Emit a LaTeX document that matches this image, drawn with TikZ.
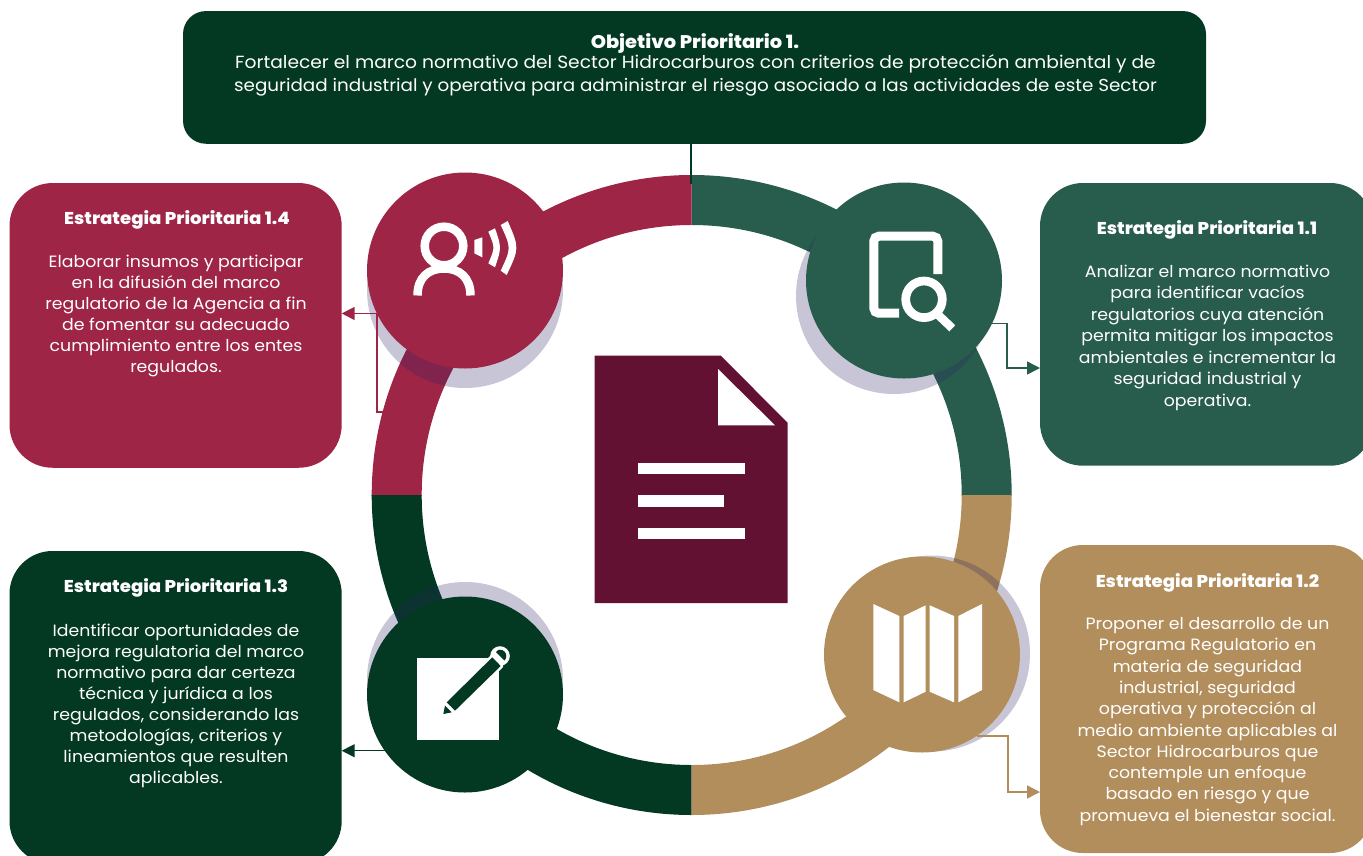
\documentclass[tikz,border=0pt]{standalone}
\usepackage{fontspec}
\usetikzlibrary{arrows.meta,calc}
\newfontfamily\mont[FakeStretch=1.06]{Poppins}
\newfontfamily\montx[FakeStretch=1.06]{Poppins ExtraBold}
\definecolor{cRed}{HTML}{9F2547}
\definecolor{cTeal}{HTML}{285C4D}
\definecolor{cTan}{HTML}{B38E5D}
\definecolor{cDark}{HTML}{033822}
\definecolor{cDoc}{HTML}{621132}
\definecolor{cShade}{HTML}{2B2461}
\tikzset{
  panel/.style={rectangle,rounded corners=43pt,inner sep=0pt,outer sep=0pt,fill=#1},
  disc/.style={circle,minimum size=196pt,inner sep=0pt,outer sep=0pt,fill=#1},
  shade/.style={circle,minimum size=196pt,inner sep=0pt,outer sep=0pt,fill=cShade,fill opacity=.26},
  headtxt/.style={text=white,align=center,inner sep=0pt,font={\montx\fontsize{17.1}{20}\selectfont}},
  bodytxt/.style={text=white,align=center,inner sep=0pt,font={\mont\fontsize{16.35}{#1}\selectfont}},
  linkline/.style={draw=#1,line width=1.5pt},
  linkarrow/.style={draw=#1,line width=1.5pt,-{Triangle[length=13pt,width=13pt]}},
  ringarc/.style={draw=#1,line width=50pt},
  iconline/.style={draw=white,line width=8.5pt}
}
\begin{document}
\begin{tikzpicture}[x=1pt,y=-1pt]
\useasboundingbox (0,0) rectangle (1363,855);
\clip (0,0) rectangle (1363,855);
\coordinate (ringc) at (691.7,495);
% ring quadrants
\begin{scope}\clip (691.7,495) rectangle (1040,150);\draw[ringarc=cTeal] (ringc) circle[radius=295];\end{scope}
\begin{scope}\clip (691.7,495) rectangle (340,150);\draw[ringarc=cRed] (ringc) circle[radius=295];\end{scope}
\begin{scope}\clip (691.7,495) rectangle (340,840);\draw[ringarc=cDark] (ringc) circle[radius=295];\end{scope}
\begin{scope}\clip (691.7,495) rectangle (1040,840);\draw[ringarc=cTan] (ringc) circle[radius=295];\end{scope}
% panels
\node[panel=cDark,rounded corners=23pt,minimum width=1023pt,minimum height=132.7pt] (b0) at (694.5,77.4) {};
\node[panel=cRed,minimum width=332.2pt,minimum height=284.7pt] (b14) at (175.6,325.4) {};
\node[panel=cTeal,minimum width=333pt,minimum height=282.7pt] (b11) at (1206.5,324.35) {};
\node[panel=cDark,minimum width=332.2pt,minimum height=313pt] (b13) at (175.6,707.5) {};
\node[panel=cTan,minimum width=333pt,minimum height=308pt] (b12) at (1206.5,699) {};
% shadows
\node[shade] (s14) at (465,290) {};
\node[shade] (s11) at (894,296) {};
\node[shade] (s13) at (465,680) {};
\node[shade] (s12) at (932,653.5) {};
% circles
\node[disc=cRed] (c14) at (465,270.5) {};
\node[disc=cTeal] (c11) at (904,280.5) {};
\node[disc=cDark] (c13) at (465,694.5) {};
\node[disc=cTan] (c12) at (922,654.5) {};
% connectors
\coordinate (ringtop) at (690.5,184);
\draw[linkline=cDark,line width=2pt] (ringtop |- b0.south) -- (ringtop);
\coordinate (ringw) at (384,412);
\coordinate (j14) at (377,314);
\draw[linkline=cRed] (ringw) -| (j14);
\draw[linkarrow=cRed] (c14.206) -- (c14.206 -| b14.east);
\coordinate (j11) at (1007,368);
\draw[linkarrow=cTeal] (c11.-26) -| (j11) -- (j11 -| b11.west);
\coordinate (j12) at (1008,792);
\draw[linkarrow=cTan] (c12.-56) -| (j12) -- (j12 -| b12.west);
\draw[linkarrow=cDark] (c13.215) -- (c13.215 -| b13.east);
% document
\fill[cDoc] (594.5,355.5) -- (720.7,355.5) -- (787.5,422.7) -- (787.5,603) -- (594.5,603) -- cycle;
\fill[white] (718,369) -- (718,425.3) -- (775,425.3) -- cycle;
\fill[white] (637.7,463) rectangle (745.3,474);
\fill[white] (637.7,495.3) rectangle (723.7,506.5);
\fill[white] (637.7,527.7) rectangle (745.3,538.7);
% icon: person
\draw[iconline] (444,246) circle[radius=19.3];
\draw[iconline] (417.5,295.5) .. controls (417.5,278) and (428,268.5) .. (444,268.5) .. controls (460,268.5) and (470.5,278) .. (470.5,295.5);
\fill[white] (474.3,240) -- (482.3,237.3) -- (482.3,257.3) -- (474.3,253.3) -- cycle;
\fill[white] (488.3,231.7) -- (495,228.3) .. controls (501.6,247.7) .. (495,267.3) -- (488.3,263.3) .. controls (495.1,247.7) .. (488.3,231.7) -- cycle;
\fill[white] (500.7,225) -- (507.7,221) .. controls (519.4,248) .. (506.7,275) -- (500.7,270.7) .. controls (511.3,248) .. (500.7,225) -- cycle;
% icon: page and magnifier
\draw[iconline,line width=9pt,rounded corners=5pt] (937.8,274) -- (937.8,236.2) -- (873.8,236.2) -- (873.8,313.2) -- (899,313.2);
\draw[iconline,line width=8.7pt] (924,299.3) circle[radius=18.3];
\draw[iconline,line width=8.5pt] (938,314.7) -- (952.3,328.3);
% icon: map
\fill[white] (873.3,604) -- (899.3,616) -- (899.3,702.3) -- (873.3,690) -- cycle;
\fill[white] (903.7,616) -- (925.7,605.3) -- (925.7,691.7) -- (903.7,702.3) -- cycle;
\fill[white] (929.7,605.3) -- (954,616) -- (954,702.3) -- (929.7,691.7) -- cycle;
\fill[white] (958.3,616) -- (982,604) -- (982,690) -- (958.3,702.3) -- cycle;
% icon: note and pencil
\fill[white] (417.3,658.3) rectangle (498.7,740);
\fill[white] (500,656) circle[radius=9.8];
\draw[white,line width=5pt,line join=round] (446.7,702.3) -- (492.3,657.3) -- (500.7,666) -- (455,710.7) -- cycle;
\fill[cDark] (446.7,702.3) -- (492.3,657.3) -- (500.7,666) -- (455,710.7) -- cycle;
\fill[cDark] (443.3,714) -- (445,705.7) -- (451.7,712.3) -- cycle;
\begin{scope}
\clip (496,652) -- (505,661) -- (515,651) -- (506,642) -- cycle;
\fill[cDark] (500,656) circle[radius=6.3];
\end{scope}
% texts
\node[headtxt,font={\montx\fontsize{18.3}{20}\selectfont}] (t0) at (695,43) {Objetivo Prioritario 1.};
\node[bodytxt=23,font={\mont\fontsize{17.6}{23}\selectfont}] (tb0) at (695.5,75.5) {Fortalecer el marco normativo del Sector Hidrocarburos con criterios de protección ambiental y de\\{\fontsize{17.3}{23}\selectfont seguridad industrial y operativa para administrar el riesgo asociado a las actividades de este Sector}};
\node[headtxt] (t14) at (177,220) {Estrategia Prioritaria 1.4};
\node[bodytxt=21] (tb14) at (176,316) {Elaborar insumos y participar\\en la difusión del marco\\regulatorio de la Agencia a fin\\de fomentar su adecuado\\cumplimiento entre los entes\\regulados.};
\node[headtxt] (t11) at (1207,229.5) {Estrategia Prioritaria 1.1};
\node[bodytxt=21.5] (tb11) at (1207.5,337.5) {Analizar el marco normativo\\para identificar vacíos\\regulatorios cuya atención\\permita mitigar los impactos\\ambientales e incrementar la\\seguridad industrial y\\operativa.};
\node[headtxt] (t13) at (176,588) {Estrategia Prioritaria 1.3};
\node[bodytxt=21] (tb13) at (176,706) {Identificar oportunidades de\\mejora regulatoria del marco\\normativo para dar certeza\\técnica y jurídica a los\\regulados, considerando las\\metodologías, criterios y\\lineamientos que resulten\\aplicables.};
\node[headtxt] (t12) at (1207.5,583) {Estrategia Prioritaria 1.2};
\node[bodytxt=21.3] (tb12) at (1207.5,721.5) {Proponer el desarrollo de un\\Programa Regulatorio en\\materia de seguridad\\industrial, seguridad\\operativa y protección al\\medio ambiente aplicables al\\Sector Hidrocarburos que\\contemple un enfoque\\basado en riesgo y que\\promueva el bienestar social.};
\end{tikzpicture}
\end{document}
